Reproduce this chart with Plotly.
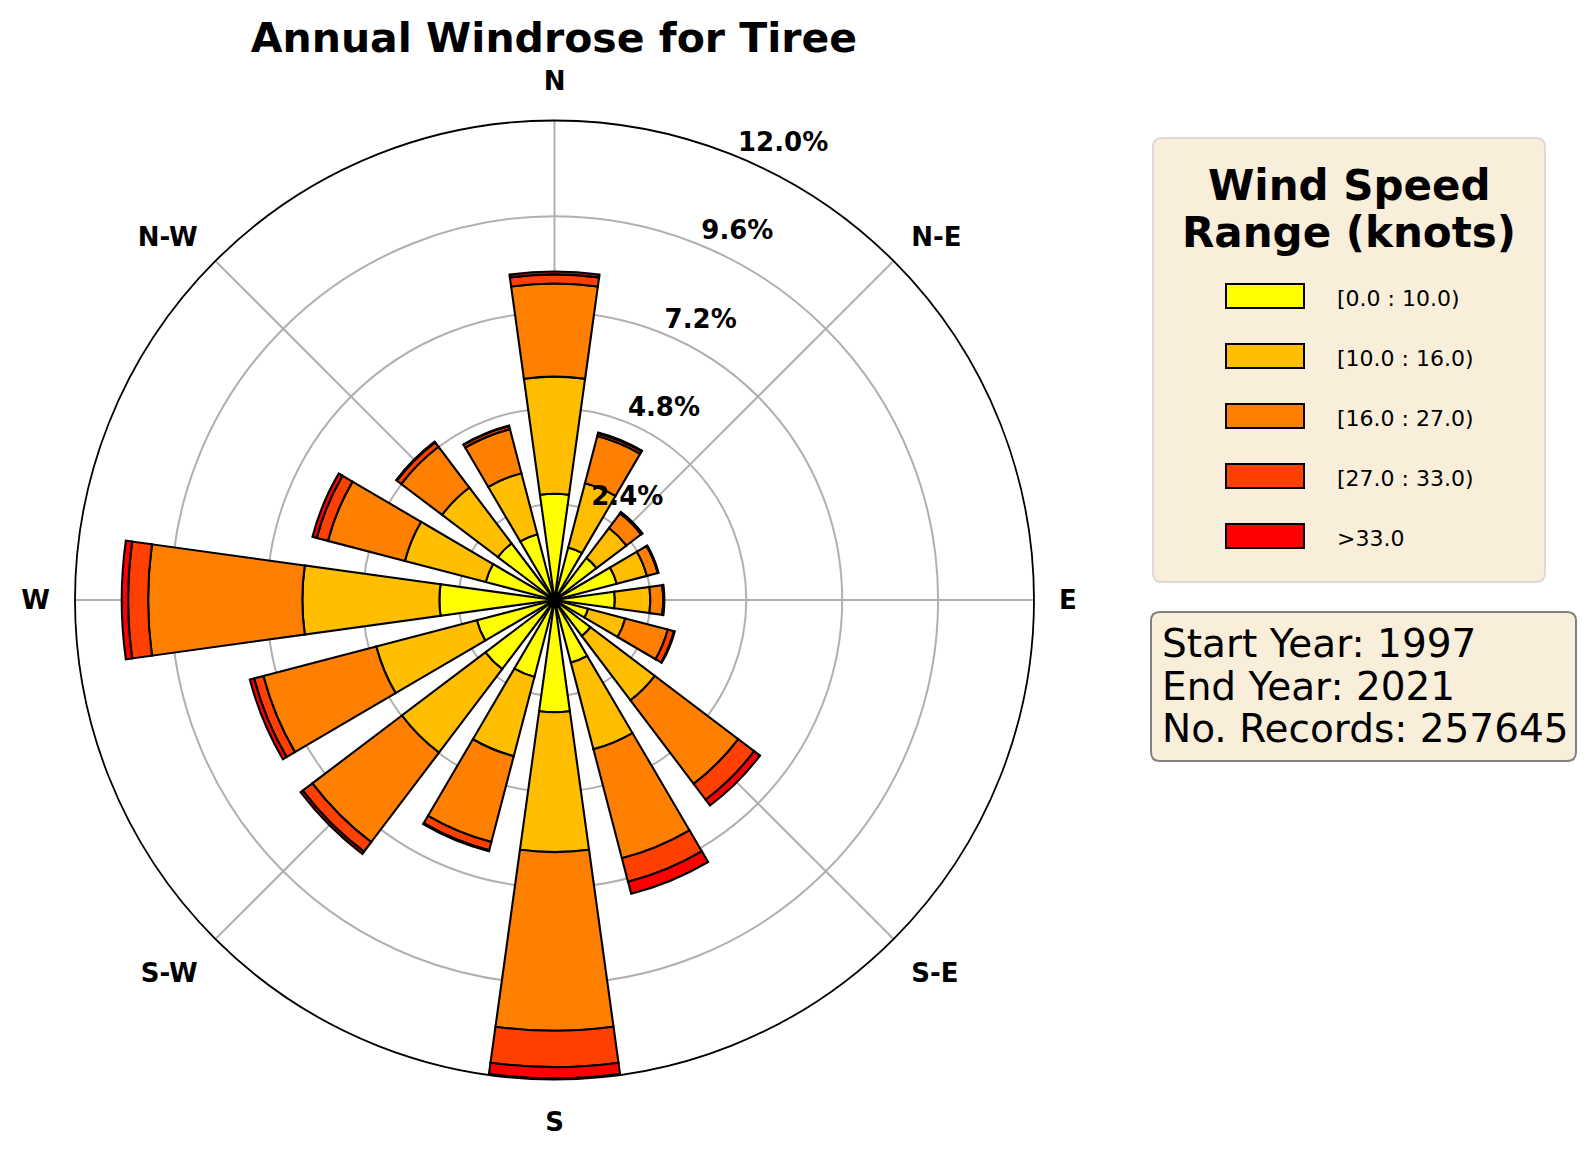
import plotly.graph_objects as go

W, H = 1586, 1153
PAD = 8  # page body margin

# wind directions (bearing, degrees clockwise from north)
directions = ["N", "NNE", "NE", "ENE", "E", "ESE", "SE", "SSE",
              "S", "SSW", "SW", "WSW", "W", "WNW", "NW", "NNW"]
bearings = [0, 22.5, 45, 67.5, 90, 112.5, 135, 157.5,
            180, 202.5, 225, 247.5, 270, 292.5, 315, 337.5]

# frequency (%) of each speed range per direction
speed_bins = ["[0.0 : 10.0)", "[10.0 : 16.0)", "[16.0 : 27.0)", "[27.0 : 33.0)", ">33.0"]
bin_colors = ["#FFFF00", "#FFBF00", "#FF8000", "#FF4000", "#FF0000"]

freq_0_10 = [2.66, 1.36, 1.32, 1.61, 1.51, 0.87, 1.13, 1.62,
             2.81, 1.99, 2.17, 2.01, 2.88, 1.78, 1.78, 1.70]
freq_10_16 = [2.93, 1.66, 0.94, 0.78, 0.89, 0.96, 2.02, 2.24,
              3.50, 2.05, 2.62, 2.60, 3.43, 2.09, 1.75, 1.58]
freq_16_27 = [2.33, 1.22, 0.46, 0.28, 0.32, 1.10, 2.62, 2.82,
              4.47, 2.22, 2.81, 2.92, 3.86, 1.99, 1.28, 1.14]
freq_27_33 = [0.23, 0.07, 0.03, 0.01, 0.02, 0.16, 0.50, 0.61,
              0.91, 0.21, 0.30, 0.24, 0.50, 0.29, 0.14, 0.08]
freq_33_up = [0.07, 0.02, 0.01, 0.01, 0.01, 0.02, 0.18, 0.31,
              0.28, 0.03, 0.07, 0.11, 0.16, 0.11, 0.02, 0.01]
all_freqs = [freq_0_10, freq_10_16, freq_16_27, freq_27_33, freq_33_up]

ring_values = [2.4, 4.8, 7.2, 9.6, 12.0]
ring_labels = ["2.4%", "4.8%", "7.2%", "9.6%", "12.0%"]
compass_angles = [0, 45, 90, 135, 180, 225, 270, 315]
compass_labels = ["N", "N-E", "E", "S-E", "S", "S-W", "W", "N-W"]

start_year = 1997
end_year = 2021
n_records = 257645

FW, FH = W - 2 * PAD, H - 2 * PAD


def px(x):
    return (x - PAD) / FW


def py(y):
    return 1 - (y - PAD) / FH


def rounded_box(x0, y0, x1, y1, r):
    return (f"M {px(x0 + r)},{py(y0)} L {px(x1 - r)},{py(y0)} "
            f"Q {px(x1)},{py(y0)} {px(x1)},{py(y0 + r)} L {px(x1)},{py(y1 - r)} "
            f"Q {px(x1)},{py(y1)} {px(x1 - r)},{py(y1)} L {px(x0 + r)},{py(y1)} "
            f"Q {px(x0)},{py(y1)} {px(x0)},{py(y1 - r)} L {px(x0)},{py(y0 + r)} "
            f"Q {px(x0)},{py(y0)} {px(x0 + r)},{py(y0)} Z")


fig = go.Figure()

for name, vals, col in zip(speed_bins, all_freqs, bin_colors):
    fig.add_trace(go.Barpolar(
        r=vals, theta=bearings, width=15.75, name=name,
        marker=dict(color=col, line=dict(color="black", width=2.1)),
        hoverinfo="skip",
    ))

# radial labels, matplotlib style
fig.add_trace(go.Scatterpolar(
    r=ring_values, theta=[22.5] * len(ring_values), mode="text",
    text=ring_labels, textposition="top right",
    textfont=dict(family="DejaVu Sans", size=26, color="black", weight="bold"),
    cliponaxis=False, hoverinfo="skip",
))

shapes = []
annotations = []

# legend box
shapes.append(dict(type="path", xref="paper", yref="paper",
                   path=rounded_box(1153, 138, 1545, 582, 9),
                   fillcolor="#F9EEDA", line=dict(color="#DCDAD6", width=2)))
annotations.append(dict(text="<b>Wind Speed</b>", x=px(1349), y=py(186),
                        xref="paper", yref="paper", showarrow=False,
                        xanchor="center", yanchor="middle",
                        font=dict(size=42, color="black")))
annotations.append(dict(text="<b>Range (knots)</b>", x=px(1349), y=py(232),
                        xref="paper", yref="paper", showarrow=False,
                        xanchor="center", yanchor="middle",
                        font=dict(size=42, color="black")))

row_y = [296, 356, 416, 476, 536]
for lab, col, yy in zip(speed_bins, bin_colors, row_y):
    shapes.append(dict(type="rect", xref="paper", yref="paper",
                       x0=px(1226), x1=px(1304), y0=py(yy - 12), y1=py(yy + 12),
                       fillcolor=col, line=dict(color="black", width=2)))
    annotations.append(dict(text=lab, x=px(1335), y=py(yy + 2),
                            xref="paper", yref="paper", showarrow=False,
                            xanchor="left", yanchor="middle",
                            font=dict(size=22, color="black")))

# info box
shapes.append(dict(type="path", xref="paper", yref="paper",
                   path=rounded_box(1151, 612, 1576, 761, 9),
                   fillcolor="#F9EEDA", line=dict(color="#808080", width=2)))
info_lines = [f"Start Year: {start_year}", f"End Year: {end_year}",
              f"No. Records: {n_records}"]
for txt, yy in zip(info_lines, [643, 686, 729]):
    annotations.append(dict(text=txt, x=px(1160), y=py(yy),
                            xref="paper", yref="paper", showarrow=False,
                            xanchor="left", yanchor="middle",
                            font=dict(size=39, color="black")))

fig.update_layout(
    width=FW, height=FH,
    margin=dict(l=0, r=0, t=0, b=0),
    paper_bgcolor="white",
    showlegend=False,
    font=dict(family="DejaVu Sans", color="black"),
    title=dict(text="<b>Annual Windrose for Tiree</b>",
               x=px(554), y=py(38), xref="paper", yref="paper",
               xanchor="center", yanchor="middle",
               font=dict(size=41, color="black")),
    polar=dict(
        domain=dict(x=[px(75), px(1034)], y=[py(1079.5), py(120.5)]),
        bgcolor="white",
        barmode="stack",
        radialaxis=dict(range=[0, 12.0], tickvals=ring_values,
                        showticklabels=False, showline=False, ticks="",
                        gridcolor="#b0b0b0", gridwidth=1.5),
        angularaxis=dict(rotation=90, direction="clockwise",
                         tickmode="array", tickvals=compass_angles,
                         ticktext=compass_labels,
                         tickfont=dict(size=26, color="black", weight="bold"),
                         ticks="outside", ticklen=19,
                         tickcolor="rgba(0,0,0,0)",
                         showline=True, linecolor="black", linewidth=1.8,
                         gridcolor="#b0b0b0", gridwidth=1.5),
    ),
    shapes=shapes,
    annotations=annotations,
)

fig.write_html("out.html")
